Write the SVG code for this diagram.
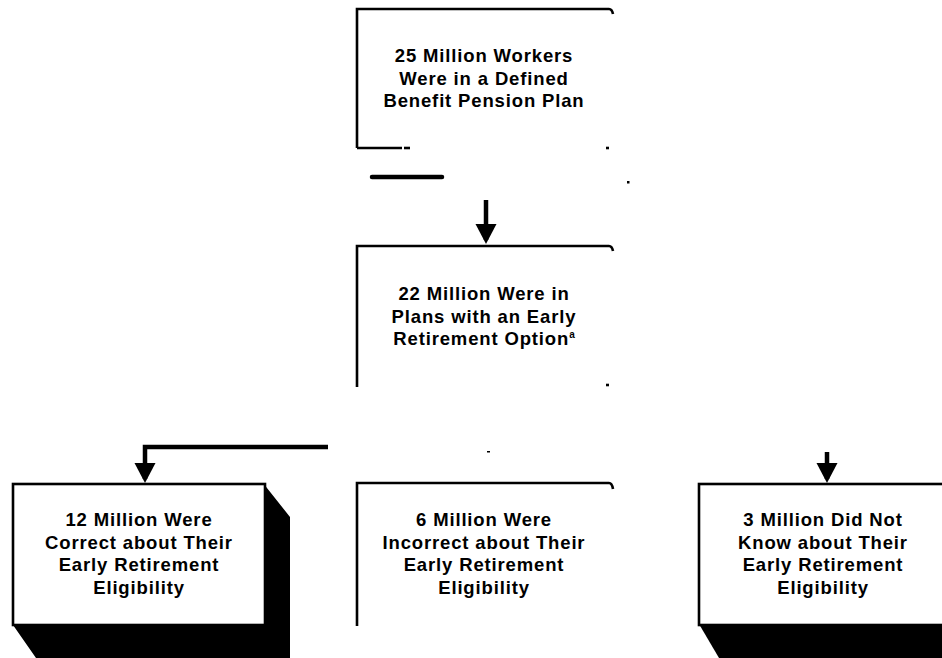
<svg xmlns="http://www.w3.org/2000/svg" width="942" height="658" viewBox="0 0 942 658">
<defs>
<style>
.ln{fill:none;stroke:#000;stroke-width:2.6;stroke-linecap:butt}
.thk{fill:none;stroke:#000;stroke-width:4.5}
.sh{fill:#000;stroke:none}
.bx{fill:#fff;stroke:#000;stroke-width:2.6}
.t{font-family:"Liberation Sans",Arial,Helvetica,sans-serif;font-weight:bold;font-size:18.5px;letter-spacing:0.85px;text-anchor:middle;fill:#000}
.sup{font-size:10px;letter-spacing:0}
</style>
<marker id="ah" markerUnits="userSpaceOnUse" markerWidth="22" markerHeight="22" refX="16" refY="10.5" orient="auto">
<path d="M0,0 L20,10.5 L0,21 Z" fill="#000"/>
</marker>
</defs>
<rect width="942" height="658" fill="#fff"/>

<g id="node-25m">
<path class="ln" d="M357,148 V9 H609 Q612,9 613,14"/>
<path class="ln" d="M357,148 H402"/>
<path class="ln" d="M404,148 H410"/>
<path class="ln" d="M606,148 H609" stroke-width="1.5"/>
<path d="M372,177 H442" stroke="#000" stroke-width="4.5" stroke-linecap="round"/>
<rect x="627" y="181" width="2.5" height="2.5" fill="#000"/>
<text class="t" x="484" y="62">25 Million Workers</text>
<text class="t" x="484" y="84.5">Were in a Defined</text>
<text class="t" x="484" y="107">Benefit Pension Plan</text>
</g>

<g id="node-22m">
<path class="ln" d="M357,387 V246 H609 Q612,246 613,251"/>
<path class="ln" d="M606,385 H609" stroke-width="1.5"/>
<text class="t" x="484" y="300">22 Million Were in</text>
<text class="t" x="484" y="322.5">Plans with an Early</text>
<text class="t" x="484" y="345">Retirement Option<tspan class="sup" dy="-7">a</tspan></text>
</g>

<g id="node-12m">
<polygon class="sh" points="263,483 290,517 290,658 36,658 13,625 263,625"/>
<rect class="bx" x="13" y="484" width="252" height="141"/>
<text class="t" x="139" y="526">12 Million Were</text>
<text class="t" x="139" y="548.5">Correct about Their</text>
<text class="t" x="139" y="571">Early Retirement</text>
<text class="t" x="139" y="593.5">Eligibility</text>
</g>

<g id="node-6m">
<path class="ln" d="M357,626 V483 H609 Q612,483 613,489"/>
<rect x="487" y="451" width="3" height="1.5" fill="#000"/>
<text class="t" x="484" y="526">6 Million Were</text>
<text class="t" x="484" y="548.5">Incorrect about Their</text>
<text class="t" x="484" y="571">Early Retirement</text>
<text class="t" x="484" y="593.5">Eligibility</text>
</g>

<g id="node-3m">
<polygon class="sh" points="699,624 942,624 942,658 719,658"/>
<rect class="bx" x="699" y="484" width="260" height="141"/>
<text class="t" x="823" y="526">3 Million Did Not</text>
<text class="t" x="823" y="548.5">Know about Their</text>
<text class="t" x="823" y="571">Early Retirement</text>
<text class="t" x="823" y="593.5">Eligibility</text>
</g>

<g id="connectors">
<path class="thk" d="M486,200 V240" marker-end="url(#ah)"/>
<path class="thk" d="M328,447 H145 V479" marker-end="url(#ah)"/>
<path class="thk" d="M827,452 V479" marker-end="url(#ah)"/>
</g>
</svg>
